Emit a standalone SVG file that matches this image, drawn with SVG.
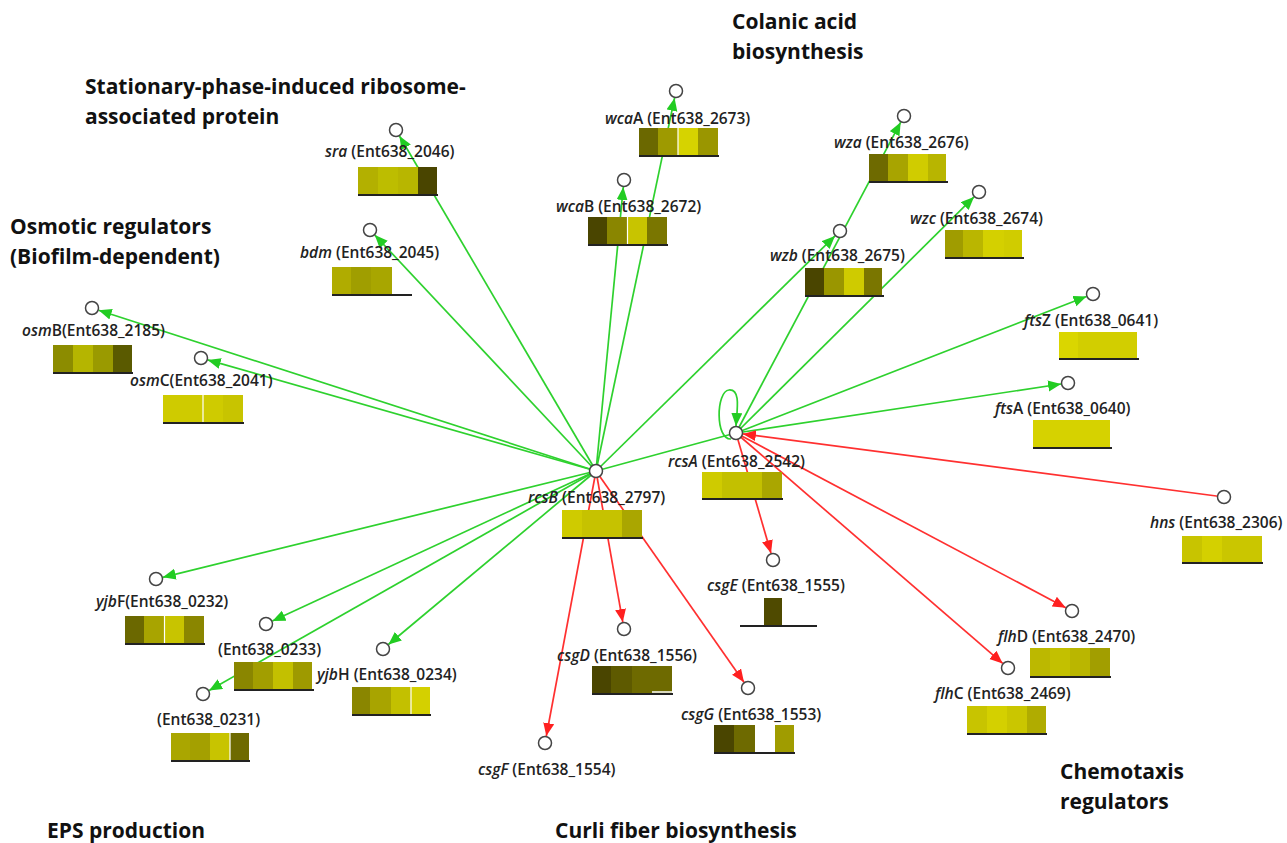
<svg xmlns="http://www.w3.org/2000/svg" width="1287" height="843" viewBox="0 0 1287 843">
<style>
.hd{font-family:"Open Sans","Liberation Sans",sans-serif;font-weight:700;font-size:21px;fill:#111}
.lb{font-family:"Open Sans","Liberation Sans",sans-serif;font-weight:600;font-size:15.5px;fill:#222}
.i{font-style:italic}
.nd{fill:#fff;stroke:#444;stroke-width:1.5}
.g{stroke:#2ed12e;stroke-width:1.7;fill:none;marker-end:url(#ag)}
.gn{stroke:#2ed12e;stroke-width:1.7;fill:none}
.r{stroke:#ff3030;stroke-width:1.7;fill:none;marker-end:url(#ar)}
.ul{stroke:#222;stroke-width:2}
.sep{stroke:#fff;stroke-width:1.2}
</style>
<defs>
<marker id="ag" markerUnits="userSpaceOnUse" markerWidth="14" markerHeight="12" refX="13" refY="5.5" orient="auto"><path d="M0,0 L13,5.5 L0,11 z" fill="#22cc22"/></marker>
<marker id="ar" markerUnits="userSpaceOnUse" markerWidth="14" markerHeight="12" refX="13" refY="5.5" orient="auto"><path d="M0,0 L13,5.5 L0,11 z" fill="#ff2020"/></marker>
</defs>
<rect width="1287" height="843" fill="#fff"/>

<g id="headings">
<text class="hd" x="732" y="29">Colanic acid</text>
<text class="hd" x="732" y="59">biosynthesis</text>
<text class="hd" x="85" y="94">Stationary-phase-induced ribosome-</text>
<text class="hd" x="85" y="124">associated protein</text>
<text class="hd" x="10" y="234">Osmotic regulators</text>
<text class="hd" x="10" y="264">(Biofilm-dependent)</text>
<text class="hd" x="47" y="838">EPS production</text>
<text class="hd" x="555" y="838">Curli fiber biosynthesis</text>
<text class="hd" x="1060" y="779">Chemotaxis</text>
<text class="hd" x="1060" y="809">regulators</text>
</g>

<g id="connectors">
<line class="g" x1="596" y1="471" x2="98.7" y2="310.2"/>
<line class="g" x1="596" y1="471" x2="207.7" y2="359.9"/>
<line class="g" x1="596" y1="471" x2="374.8" y2="235.1"/>
<line class="g" x1="596" y1="471" x2="399.5" y2="136"/>
<line class="g" x1="596" y1="471" x2="623.3" y2="187"/>
<line class="g" x1="596" y1="471" x2="674.6" y2="97.9"/>
<line class="g" x1="596" y1="471" x2="835" y2="235.9"/>
<line class="gn" x1="596" y1="471" x2="729.2" y2="434.8"/>
<line class="g" x1="596" y1="471" x2="162.8" y2="577.3"/>
<line class="g" x1="596" y1="471" x2="272.4" y2="621.1"/>
<line class="g" x1="596" y1="471" x2="209.1" y2="690.5"/>
<line class="g" x1="596" y1="471" x2="388.4" y2="644.5"/>
<line class="r" x1="596" y1="471" x2="546.3" y2="736.1"/>
<line class="r" x1="596" y1="471" x2="622.8" y2="622.1"/>
<line class="r" x1="596" y1="471" x2="744" y2="682.3"/>
<line class="g" x1="736" y1="433" x2="900.7" y2="122.2"/>
<line class="g" x1="736" y1="433" x2="974" y2="196.9"/>
<line class="g" x1="736" y1="433" x2="1086.5" y2="296.5"/>
<line class="g" x1="736" y1="433" x2="1061.1" y2="384"/>
<path class="g" d="M731,439 C715,440 716,391 729,390 C741,389 737,410 736,426"/>
<line class="r" x1="1224" y1="497" x2="742.9" y2="433.9"/>
<line class="r" x1="736" y1="433" x2="771" y2="553.3"/>
<line class="r" x1="736" y1="433" x2="1065.8" y2="607.7"/>
<line class="r" x1="736" y1="433" x2="1002.7" y2="663.4"/>
</g>

<g id="rcsB">
<circle class="nd" cx="596" cy="471" r="6.5"/>
<text class="lb" x="528" y="503"><tspan class="i">rcsB</tspan> (Ent638_2797)</text>
<rect x="562" y="510" width="20" height="27" fill="#cfcb00"/><rect x="582" y="510" width="40" height="27" fill="#c6c200"/><rect x="622" y="510" width="20" height="27" fill="#aaa600"/>
<line class="ul" x1="562" y1="538" x2="643" y2="538"/>
</g>
<g id="rcsA">
<circle class="nd" cx="736" cy="433" r="6.5"/>
<text class="lb" x="668" y="467"><tspan class="i">rcsA</tspan> (Ent638_2542)</text>
<rect x="702" y="472" width="20" height="26" fill="#cfcb00"/><rect x="722" y="472" width="40" height="26" fill="#c3c000"/><rect x="762" y="472" width="20" height="26" fill="#aaa600"/>
<line class="ul" x1="702" y1="499" x2="783" y2="499"/>
</g>
<g id="osmB">
<circle class="nd" cx="92" cy="308" r="6.5"/>
<text class="lb" x="22" y="336"><tspan class="i">osm</tspan>B(Ent638_2185)</text>
<rect x="53" y="345" width="20" height="27" fill="#8c8c00"/><rect x="73" y="345" width="20" height="27" fill="#b5b500"/><rect x="93" y="345" width="20" height="27" fill="#9a9a00"/><rect x="113" y="345" width="19" height="27" fill="#5a5a00"/>
<line class="ul" x1="53" y1="373" x2="133" y2="373"/>
</g>
<g id="osmC">
<circle class="nd" cx="201" cy="358" r="6.5"/>
<text class="lb" x="130" y="386"><tspan class="i">osm</tspan>C(Ent638_2041)</text>
<rect x="163" y="395" width="40" height="27" fill="#cfcb00"/><rect x="203" y="395" width="20" height="27" fill="#cfcb00"/><rect x="223" y="395" width="20" height="27" fill="#c8c400"/>
<line class="sep" x1="203" y1="395" x2="203" y2="422"/>
<line class="ul" x1="163" y1="423" x2="244" y2="423"/>
</g>
<g id="sra">
<circle class="nd" cx="396" cy="130" r="6.5"/>
<text class="lb" x="325" y="157"><tspan class="i">sra</tspan> (Ent638_2046)</text>
<rect x="358" y="167" width="20" height="27" fill="#b3b000"/><rect x="378" y="167" width="20" height="27" fill="#bdbd00"/><rect x="398" y="167" width="20" height="27" fill="#b8b600"/><rect x="418" y="167" width="19" height="27" fill="#4a4500"/>
<line class="ul" x1="358" y1="195" x2="438" y2="195"/>
</g>
<g id="bdm">
<circle class="nd" cx="370" cy="230" r="6.5"/>
<text class="lb" x="300" y="258"><tspan class="i">bdm</tspan> (Ent638_2045)</text>
<rect x="332" y="267" width="19" height="27" fill="#b0ac00"/><rect x="351" y="267" width="20" height="27" fill="#a09e00"/><rect x="371" y="267" width="21" height="27" fill="#a8a600"/>
<line class="ul" x1="332" y1="295" x2="412" y2="295"/>
</g>
<g id="wcaA">
<circle class="nd" cx="676" cy="91" r="6.5"/>
<text class="lb" x="605" y="124"><tspan class="i">wca</tspan>A (Ent638_2673)</text>
<rect x="639" y="128" width="19" height="27" fill="#6b6800"/><rect x="658" y="128" width="20" height="27" fill="#9e9a00"/><rect x="678" y="128" width="20" height="27" fill="#d6d300"/><rect x="698" y="128" width="20" height="27" fill="#9a9600"/>
<line class="sep" x1="678" y1="128" x2="678" y2="155"/>
<line class="ul" x1="639" y1="156" x2="719" y2="156"/>
</g>
<g id="wcaB">
<circle class="nd" cx="624" cy="180" r="6.5"/>
<text class="lb" x="556" y="212"><tspan class="i">wca</tspan>B (Ent638_2672)</text>
<rect x="588" y="217" width="19" height="27" fill="#4a4500"/><rect x="607" y="217" width="20" height="27" fill="#8a8600"/><rect x="627" y="217" width="20" height="27" fill="#c8c400"/><rect x="647" y="217" width="20" height="27" fill="#7a7600"/>
<line class="sep" x1="627.5" y1="217" x2="627.5" y2="244"/>
<line class="ul" x1="588" y1="245" x2="668" y2="245"/>
</g>
<g id="wza">
<circle class="nd" cx="904" cy="116" r="6.5"/>
<text class="lb" x="834" y="148"><tspan class="i">wza</tspan> (Ent638_2676)</text>
<rect x="869" y="154" width="19" height="27" fill="#6e6a00"/><rect x="888" y="154" width="20" height="27" fill="#a8a400"/><rect x="908" y="154" width="20" height="27" fill="#d0cc00"/><rect x="928" y="154" width="18" height="27" fill="#b8b500"/>
<line class="ul" x1="869" y1="182" x2="948" y2="182"/>
</g>
<g id="wzc">
<circle class="nd" cx="979" cy="192" r="6.5"/>
<text class="lb" x="910" y="224"><tspan class="i">wzc</tspan> (Ent638_2674)</text>
<rect x="945" y="230" width="18" height="27" fill="#a09c00"/><rect x="963" y="230" width="20" height="27" fill="#bab600"/><rect x="983" y="230" width="21" height="27" fill="#d4d000"/><rect x="1004" y="230" width="18" height="27" fill="#d0cc00"/>
<line class="ul" x1="945" y1="258" x2="1024" y2="258"/>
</g>
<g id="wzb">
<circle class="nd" cx="840" cy="231" r="6.5"/>
<text class="lb" x="770" y="261"><tspan class="i">wzb</tspan> (Ent638_2675)</text>
<rect x="805" y="268" width="19" height="27" fill="#4a4500"/><rect x="824" y="268" width="20" height="27" fill="#9a9600"/><rect x="844" y="268" width="20" height="27" fill="#cfcb00"/><rect x="864" y="268" width="18" height="27" fill="#7a7600"/>
<line class="ul" x1="805" y1="296" x2="884" y2="296"/>
</g>
<g id="ftsZ">
<circle class="nd" cx="1093" cy="294" r="6.5"/>
<text class="lb" x="1024" y="326"><tspan class="i">fts</tspan>Z (Ent638_0641)</text>
<rect x="1059" y="332" width="19" height="26" fill="#dad600"/><rect x="1078" y="332" width="59" height="26" fill="#d2ce00"/>
<line class="ul" x1="1059" y1="359" x2="1139" y2="359"/>
</g>
<g id="ftsA">
<circle class="nd" cx="1068" cy="383" r="6.5"/>
<text class="lb" x="995" y="414"><tspan class="i">fts</tspan>A (Ent638_0640)</text>
<rect x="1033" y="420" width="77" height="27" fill="#d6d200"/>
<line class="ul" x1="1033" y1="448" x2="1112" y2="448"/>
</g>
<g id="hns">
<circle class="nd" cx="1224" cy="497" r="6.5"/>
<text class="lb" x="1150" y="528"><tspan class="i">hns</tspan> (Ent638_2306)</text>
<rect x="1182" y="536" width="20" height="26" fill="#c8c400"/><rect x="1202" y="536" width="20" height="26" fill="#d4d000"/><rect x="1222" y="536" width="40" height="26" fill="#cac600"/>
<line class="ul" x1="1182" y1="563" x2="1263" y2="563"/>
</g>
<g id="csgE">
<circle class="nd" cx="773" cy="560" r="6.5"/>
<text class="lb" x="707" y="591"><tspan class="i">csgE</tspan> (Ent638_1555)</text>
<rect x="764" y="598" width="18" height="27" fill="#4f4a00"/>
<line class="ul" x1="740" y1="626" x2="817" y2="626"/>
</g>
<g id="csgD">
<circle class="nd" cx="624" cy="629" r="6.5"/>
<text class="lb" x="557" y="661"><tspan class="i">csgD</tspan> (Ent638_1556)</text>
<rect x="592" y="666" width="19" height="27" fill="#4a4500"/><rect x="611" y="666" width="21" height="27" fill="#5e5a00"/><rect x="632" y="666" width="40" height="27" fill="#6e6a00"/>
<line x1="652" y1="692" x2="672" y2="692" stroke="#fff" stroke-width="1.5"/>
<line class="ul" x1="592" y1="694" x2="673" y2="694"/>
</g>
<g id="csgG">
<circle class="nd" cx="748" cy="688" r="6.5"/>
<text class="lb" x="681" y="720"><tspan class="i">csgG</tspan> (Ent638_1553)</text>
<rect x="714" y="725" width="20" height="27" fill="#4a4500"/><rect x="734" y="725" width="21" height="27" fill="#6e6a00"/><rect x="775" y="725" width="19" height="27" fill="#a09c00"/>
<line class="ul" x1="714" y1="753" x2="795" y2="753"/>
</g>
<g id="csgF">
<circle class="nd" cx="545" cy="743" r="6.5"/>
<text class="lb" x="478" y="775"><tspan class="i">csgF</tspan> (Ent638_1554)</text>
</g>
<g id="flhD">
<circle class="nd" cx="1072" cy="611" r="6.5"/>
<text class="lb" x="998" y="642"><tspan class="i">flh</tspan>D (Ent638_2470)</text>
<rect x="1030" y="648" width="20" height="28" fill="#bcb800"/><rect x="1050" y="648" width="20" height="28" fill="#c3c000"/><rect x="1070" y="648" width="20" height="28" fill="#bab600"/><rect x="1090" y="648" width="20" height="28" fill="#a29e00"/>
<line class="ul" x1="1030" y1="677" x2="1111" y2="677"/>
</g>
<g id="flhC">
<circle class="nd" cx="1008" cy="668" r="6.5"/>
<text class="lb" x="935" y="699"><tspan class="i">flh</tspan>C (Ent638_2469)</text>
<rect x="967" y="706" width="20" height="27" fill="#c8c400"/><rect x="987" y="706" width="20" height="27" fill="#d4d000"/><rect x="1007" y="706" width="20" height="27" fill="#cac600"/><rect x="1027" y="706" width="19" height="27" fill="#b0ac00"/>
<line class="ul" x1="967" y1="734" x2="1047" y2="734"/>
</g>
<g id="yjbF">
<circle class="nd" cx="156" cy="579" r="6.5"/>
<text class="lb" x="96" y="607"><tspan class="i">yjb</tspan>F(Ent638_0232)</text>
<rect x="125" y="616" width="19" height="27" fill="#6b6800"/><rect x="144" y="616" width="20" height="27" fill="#a8a400"/><rect x="164" y="616" width="20" height="27" fill="#c8c400"/><rect x="184" y="616" width="20" height="27" fill="#8a8600"/>
<line class="sep" x1="164.5" y1="616" x2="164.5" y2="643"/>
<line class="ul" x1="125" y1="644" x2="205" y2="644"/>
</g>
<g id="Ent638_0233">
<circle class="nd" cx="266" cy="624" r="6.5"/>
<text class="lb" x="218" y="655">(Ent638_0233)</text>
<rect x="234" y="662" width="19" height="27" fill="#8a8600"/><rect x="253" y="662" width="20" height="27" fill="#a29e00"/><rect x="273" y="662" width="20" height="27" fill="#c3c000"/><rect x="293" y="662" width="19" height="27" fill="#9e9a00"/>
<line class="ul" x1="234" y1="690" x2="314" y2="690"/>
</g>
<g id="yjbH">
<circle class="nd" cx="383" cy="649" r="6.5"/>
<text class="lb" x="317" y="680"><tspan class="i">yjb</tspan>H (Ent638_0234)</text>
<rect x="352" y="687" width="18" height="27" fill="#8a8600"/><rect x="370" y="687" width="21" height="27" fill="#a8a400"/><rect x="391" y="687" width="20" height="27" fill="#c3c000"/><rect x="411" y="687" width="19" height="27" fill="#d4d000"/>
<line class="sep" x1="411" y1="687" x2="411" y2="714"/>
<line class="ul" x1="352" y1="715" x2="431" y2="715"/>
</g>
<g id="Ent638_0231">
<circle class="nd" cx="203" cy="694" r="6.5"/>
<text class="lb" x="157" y="725">(Ent638_0231)</text>
<rect x="171" y="733" width="19" height="27" fill="#aaa600"/><rect x="190" y="733" width="20" height="27" fill="#a4a000"/><rect x="210" y="733" width="20" height="27" fill="#c8c400"/><rect x="230" y="733" width="19" height="27" fill="#6e6a00"/>
<line class="sep" x1="230" y1="733" x2="230" y2="760"/>
<line class="ul" x1="171" y1="761" x2="250" y2="761"/>
</g>
</svg>
